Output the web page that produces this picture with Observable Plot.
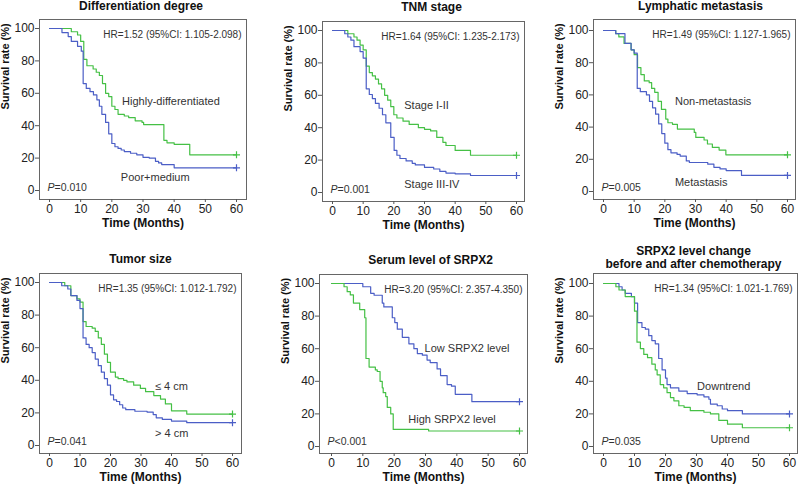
<!DOCTYPE html>
<html><head><meta charset="utf-8">
<script src="https://cdn.jsdelivr.net/npm/d3@7"></script>
<script src="https://cdn.jsdelivr.net/npm/@observablehq/plot@0.6"></script>
<style>
body{margin:0;background:#fff;}
#root{position:relative;width:800px;height:486px;overflow:hidden;font-family:"Liberation Sans",Arial,sans-serif;}
.panel{position:absolute;}
</style></head><body><div id="root"></div>
<script>
// ---- data: [time (months), survival (%)] change points ----
const xTicks = [0, 10, 20, 30, 40, 50, 60];
const yTicks = [0, 20, 40, 60, 80, 100];

const diffHigh = [[0,100],[7,98],[9,96],[10,92],[11,81],[12,77],[14,75],[15,73],[16,71],[17,66],[18,60],[19,58],[20,52],[21,50],[22,47],[24,46],[25.4,45],[27.5,43],[29.7,42],[30.2,40.7],[36.7,31],[37.7,29.4],[40,28.5],[45,22],[60,22]];
const diffPoor = [[0,100],[4,97.5],[6,95],[7,92],[9,89],[10.2,86],[10.8,66],[11.8,63],[13,61],[14.1,59],[15.2,56],[16,52],[16.8,47],[18,42],[19,35],[20,29],[21,27],[22,26],[23,25],[24,24],[26,23],[28,22],[30,20.5],[32,20],[34,18],[35,17],[36,16],[40,14],[60,14]];

const tnmEarly = [[0,100],[5,98],[7,96],[8,94],[9,91],[10,88],[11,78],[12,74],[13,72],[14,70],[15,67],[16,64],[17,60],[18,57],[19,53],[20,48],[21,46],[23,44],[25,42],[28,40],[30,39],[32,38],[34,34],[36,31],[37,29],[40,26],[45,23],[60,23]];
const tnmLate = [[0,100],[4,98],[5,96],[6,94],[7,90],[9,87],[10,83],[11,64],[12,60.5],[13,58],[14,55],[15.2,52],[16.3,48],[17.4,43],[19,34],[20.1,26],[21,23],[22,21],[24,19.5],[26,18],[27,17],[30,15.5],[33,14.5],[35,13],[37,12],[40,11.5],[45,10.5],[60,10.5]];

const lymphNon = [[0,100],[4,98],[5,96],[6.7,92],[9,88],[10,85],[11.1,77],[12.2,72.6],[13.3,68.7],[14.9,67.6],[15.7,64],[16.7,61.6],[17.8,56],[18.9,51],[20.3,45],[21,42.7],[22.5,41.7],[24.1,38.8],[29.6,36.7],[30.1,33.6],[32.8,32],[33.9,29.5],[35.5,27.4],[37.7,25.7],[39.9,22.8],[60,22.8]];
const lymphMet = [[0,100],[4,98],[7,92],[9,88],[10,86],[11,64],[12,62],[14,60],[15,56],[16,52],[17,48],[18,42],[19,36],[20,30],[21,26],[22,24],[24,23],[25,22],[27,19],[28,18],[34,17],[36,15],[38,14],[40,13],[45,10],[60,10]];

const tumorSmall = [[0,100],[5,98],[7,92],[9,90],[10,88],[11,76],[12,73],[14,72],[15,70],[16,66],[17,62],[18,56],[19,51],[20,45],[21.6,42],[22.5,41],[24.3,40],[25.4,39],[27.6,37],[29.8,35],[31.5,33],[34.2,30.6],[36.4,28.5],[38,25.5],[40,21.3],[45,19.3],[60,19.3]];
const tumorLarge = [[0,100],[4,98],[6,96],[7,92],[9,89],[10,84],[11,66],[12,62],[13,60],[14,57],[15,53],[16,49],[17,45],[18,41],[19,37],[20,31],[21,28],[22,27],[23,25],[24,23],[25,22],[28,21],[32,20.5],[34,19],[35,17],[37,16],[40,15],[45,14],[60,14]];

const serumLow = [[0,100],[10,98],[12.5,94],[13.6,92.8],[16.2,88],[16.7,85.6],[19.4,79],[20.2,76],[21,72],[22.6,67],[24.7,63],[26.3,60],[27.4,57],[29,56],[30.5,53],[31.5,51.5],[33.7,47.6],[34.8,43.5],[36.9,38],[38.3,37],[39.5,32],[44.8,27.5],[60,27.5]];
const serumHigh = [[0,100],[4,98],[5,95],[6,93],[7,88],[9,84],[10.6,79],[11,54],[12,48.7],[14,47],[14.6,46],[15.5,40],[16.2,36],[16.5,33],[17.3,30.6],[17.8,24],[18.9,20],[19.7,10.5],[31,9.5],[60,9.5]];

const changeDown = [[0,100],[5,98],[6,96],[7,94],[9,92],[10,88],[11,76],[12.4,73],[13.5,72],[14.6,68],[15.6,65],[16.7,63],[17.8,54],[18.9,47],[20,42],[20.5,38],[21.6,36],[24.3,34],[27,32.5],[30.2,31.7],[32.4,30.5],[34,29],[34.5,26],[36.7,25],[38.3,23],[40,22],[44.8,20],[60,20]];
const changeUp = [[0,100],[4,98],[5,96],[7,92],[10,83],[10.8,64],[11.9,60],[13,56.5],[14.2,54.5],[15.6,50.5],[16.7,47],[17.3,44],[18.3,38],[19.4,36],[20.5,33],[21.6,30],[22.7,28],[24.3,25],[26,24],[28,22],[32.4,21],[34.5,20],[37.2,16],[40,13.7],[44.8,11.5],[60,11.5]];

const titles = [["Differentiation degree"],["TNM stage"],["Lymphatic metastasis"],["Tumor size"],["Serum level of SRPX2"],["SRPX2 level change","before and after chemotherapy"]];
const hrTexts = ["HR=1.52 (95%CI: 1.105-2.098)","HR=1.64 (95%CI: 1.235-2.173)","HR=1.49 (95%CI: 1.127-1.965)","HR=1.35 (95%CI: 1.012-1.792)","HR=3.20 (95%CI: 2.357-4.350)","HR=1.34 (95%CI: 1.021-1.769)"];
const pTexts = ["=0.010","=0.001","=0.005","=0.041","<0.001","=0.035"];

const GREEN = "#45c045", BLUE = "#4b5ec6";

// ---- layout (page pixels) ----
const panels = [
  {series:[{name:"Highly-differentiated",data:diffHigh,color:GREEN,lx:23.3,ly:55},{name:"Poor+medium",data:diffPoor,color:BLUE,lx:22.9,ly:7.8}],
   frame:{L:39,R:246,T:19,B:199}, inset:[10,10,9,9], top:0, titleDy:[-13], titleDx:-2},
  {series:[{name:"Stage I-II",data:tnmEarly,color:GREEN,lx:23.4,ly:54},{name:"Stage III-IV",data:tnmLate,color:BLUE,lx:23.4,ly:5.1}],
   frame:{L:322,R:524,T:21,B:201}, inset:[10,8,9,9], top:0, titleDy:[-14], titleDx:8},
  {series:[{name:"Non-metastasis",data:lymphNon,color:GREEN,lx:23.3,ly:55.8},{name:"Metastasis",data:lymphMet,color:BLUE,lx:23.3,ly:5.6}],
   frame:{L:593,R:795,T:19,B:199}, inset:[10,8,11,8], top:0, titleDy:[-13], titleDx:6},
  {series:[{name:"≤ 4 cm",data:tumorSmall,color:GREEN,lx:34.6,ly:36.3},{name:"> 4 cm",data:tumorLarge,color:BLUE,lx:34.6,ly:7.6}],
   frame:{L:39,R:241,T:273,B:453}, inset:[10,9,9,8], top:240, titleDy:[-14], titleDx:0},
  {series:[{name:"Low SRPX2 level",data:serumLow,color:BLUE,lx:29.7,ly:60},{name:"High SRPX2 level",data:serumHigh,color:GREEN,lx:24.5,ly:16.8}],
   frame:{L:319,R:527,T:274,B:453}, inset:[12,8,9,7], top:240, titleDy:[-14], titleDx:7},
  {series:[{name:"Downtrend",data:changeDown,color:BLUE,lx:30.2,ly:36.8},{name:"Uptrend",data:changeUp,color:GREEN,lx:34.5,ly:4.1}],
   frame:{L:593,R:797,T:273,B:453}, inset:[10,8,10,7], top:240, titleDy:[-22,-9], titleDx:-2}
];

const root = document.getElementById("root");
const FONT = '"Liberation Sans", Arial, sans-serif';

panels.forEach((pn, i) => {
  const rows = pn.series.flatMap(s => s.data.map(([t, v]) => ({t, v, g: s.name})));
  const labels = pn.series.map(s => ({x: s.lx, y: s.ly, text: s.name}));
  const ml = 39, mr = 3, mb = 34;
  const mt = pn.frame.T - pn.top;
  const fw = pn.frame.R - pn.frame.L, fh = pn.frame.B - pn.frame.T;
  const width = ml + fw + mr, height = mt + fh + mb;
  const titleMarks = titles[i].map((line, k) =>
    Plot.text([line], {frameAnchor: "top", dy: pn.titleDy[k], dx: pn.titleDx, lineAnchor: "middle",
      fontSize: 12, fontWeight: "bold", fill: "#111"}));
  const chart = Plot.plot({
    width, height,
    marginTop: mt, marginLeft: ml, marginRight: mr, marginBottom: mb,
    insetLeft: pn.inset[0], insetRight: pn.inset[1], insetTop: pn.inset[2], insetBottom: pn.inset[3],
    style: {fontFamily: FONT, fontSize: "12px", color: "#222", background: "transparent", overflow: "visible"},
    x: {domain: [0, 60], label: null},
    y: {domain: [0, 100], label: null},
    color: {domain: pn.series.map(s => s.name), range: pn.series.map(s => s.color)},
    marks: [
      Plot.frame({stroke: "#666", strokeWidth: 1}),
      Plot.axisX({ticks: xTicks, tickSize: 3, tickPadding: 2, label: null, stroke: "#555", fill: "#222", fontSize: 12}),
      Plot.axisY({ticks: yTicks, tickSize: 4, tickPadding: 1, label: null, stroke: "#555", fill: "#222", fontSize: 12}),
      Plot.line(rows, {x: "t", y: "v", z: "g", stroke: "g", curve: "step-after", strokeWidth: 1.2}),
      Plot.dot(rows, Plot.selectLast({x: "t", y: "v", z: "g", stroke: "g", symbol: "plus", r: 2.4, strokeWidth: 1.2})),
      Plot.text(labels, {x: "x", y: "y", text: "text", textAnchor: "start", lineAnchor: "middle", fontSize: 11, fill: "#333"}),
      Plot.text([hrTexts[i]], {frameAnchor: "top-right", dx: -5, dy: 15, lineAnchor: "middle", textAnchor: "end", fontSize: 10, fill: "#333"}),
      Plot.text(["P"], {frameAnchor: "bottom-left", dx: 8, dy: -12, lineAnchor: "middle", textAnchor: "start", fontSize: 10.5, fontStyle: "italic", fill: "#333"}),
      Plot.text([pTexts[i]], {frameAnchor: "bottom-left", dx: 15, dy: -12, lineAnchor: "middle", textAnchor: "start", fontSize: 10.5, fill: "#333"}),
      Plot.text(["Survival rate (%)"], {frameAnchor: "left", dx: -34, rotate: -90, lineAnchor: "middle", fontSize: 11, fontWeight: "bold", fill: "#111"}),
      Plot.text(["Time (Months)"], {frameAnchor: "bottom", dy: 23.5, lineAnchor: "middle", fontSize: 12, fontWeight: "bold", fill: "#111"}),
      ...titleMarks
    ]
  });
  const div = document.createElement("div");
  div.className = "panel";
  div.style.left = (pn.frame.L - ml) + "px";
  div.style.top = pn.top + "px";
  div.appendChild(chart);
  root.appendChild(div);
});
</script>
</body></html>
